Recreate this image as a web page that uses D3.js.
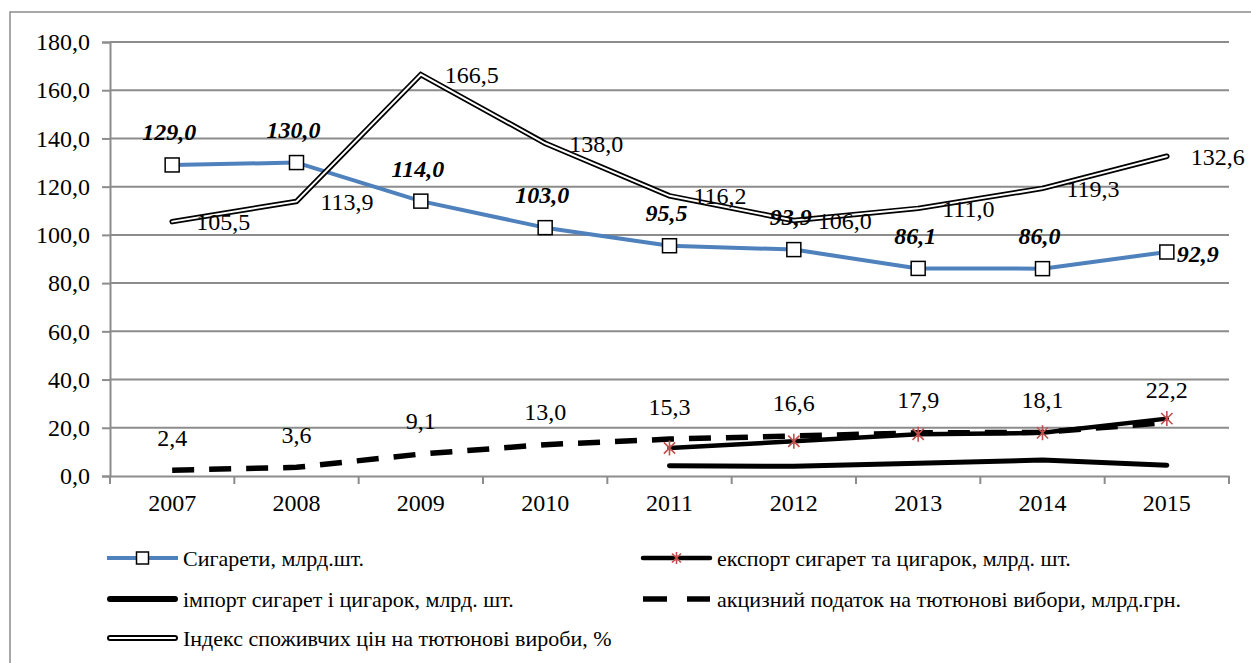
<!DOCTYPE html>
<html>
<head>
<meta charset="utf-8">
<script src="https://cdn.jsdelivr.net/npm/d3@7"></script>
<style>
  body { margin: 0; background: #fff; }
  svg text { font-family: "Liberation Serif", "Times New Roman", Times, "DejaVu Serif", serif !important; fill: #000; }
</style>
</head>
<body>
<div id="chart"></div>
<script>
// chart data
const years = ["2007", "2008", "2009", "2010", "2011", "2012", "2013", "2014", "2015"];
const cigarettes = [129.0, 130.0, 114.0, 103.0, 95.5, 93.9, 86.1, 86.0, 92.9];
const exportVals = [null, null, null, null, 11.6, 14.4, 17.3, 17.9, 23.8];
const importVals = [null, null, null, null, 4.3, 4.0, 5.3, 6.6, 4.5];
const excise = [2.4, 3.6, 9.1, 13.0, 15.3, 16.6, 17.9, 18.1, 22.2];
const priceIndex = [105.5, 113.9, 166.5, 138.0, 116.2, 106.0, 111.0, 119.3, 132.6];
const yTicks = [0, 20, 40, 60, 80, 100, 120, 140, 160, 180];

const legendNames = [
    "Сигарети, млрд.шт.",
    "експорт сигарет та цигарок, млрд. шт.",
    "імпорт сигарет і цигарок, млрд. шт.",
    "акцизний податок на тютюнові вибори, млрд.грн.",
    "Індекс споживчих цін на тютюнові вироби, %"
];

const width = 1251, height = 663;
const plot = { left: 110, right: 1229, top: 42, bottom: 476 };
const grey = "#8c8c8c";
const blue = "#4f81bd";
const red = "#c0504d";
const serif = '"Liberation Serif", "Times New Roman", Times, "DejaVu Serif", serif';

const uk = d3.formatLocale({ decimal: ",", thousands: " ", grouping: [3], currency: ["", ""] });
const fmt = uk.format(".1f");

const svg = d3.select("#chart").append("svg")
    .attr("width", width)
    .attr("height", height)
    .attr("font-family", serif);

// outer frame (runs off the right/bottom of the picture)
svg.append("rect")
    .attr("x", 10).attr("y", 12)
    .attr("width", 1260).attr("height", 700)
    .attr("fill", "none")
    .attr("stroke", grey)
    .attr("stroke-width", 1.5);

const x = d3.scaleBand().domain(years).range([plot.left, plot.right]);
const y = d3.scaleLinear().domain([0, 180]).range([plot.bottom, plot.top]);
const cx = d => x(d) + x.bandwidth() / 2;

// gridlines
svg.append("g")
    .selectAll("line")
    .data(yTicks.filter(t => t > 0))
    .enter().append("line")
    .attr("x1", plot.left).attr("x2", plot.right)
    .attr("y1", d => y(d)).attr("y2", d => y(d))
    .attr("stroke", grey).attr("stroke-width", 2);

// y axis
const yAxis = svg.append("g")
    .attr("transform", `translate(${plot.left},0)`)
    .call(d3.axisLeft(y).tickValues(yTicks).tickFormat(fmt).tickSizeOuter(0).tickSize(8).tickPadding(12));
yAxis.attr("font-family", serif);
yAxis.select(".domain").attr("stroke", grey).attr("stroke-width", 2);
yAxis.selectAll(".tick line").attr("stroke", grey).attr("stroke-width", 2);
yAxis.selectAll(".tick text").attr("font-size", 24).attr("fill", "#000");

// x axis (ticks between categories)
const xAxis = svg.append("g")
    .attr("transform", `translate(0,${plot.bottom})`)
    .call(d3.axisBottom(x).tickSize(0).tickPadding(16));
xAxis.attr("font-family", serif);
xAxis.select(".domain").attr("stroke", grey).attr("stroke-width", 2);
xAxis.selectAll(".tick text").attr("font-size", 24).attr("fill", "#000")
    .attr("dy", "0.8em");
svg.append("g")
    .selectAll("line")
    .data(years.concat(["end"]))
    .enter().append("line")
    .attr("x1", (d, i) => plot.left + i * x.bandwidth())
    .attr("x2", (d, i) => plot.left + i * x.bandwidth())
    .attr("y1", plot.bottom).attr("y2", plot.bottom + 8)
    .attr("stroke", grey).attr("stroke-width", 2);

function pts(vals) {
    return years.map((yr, i) => ({ yr, v: vals[i] })).filter(p => p.v !== null);
}
const line = d3.line().x(p => cx(p.yr)).y(p => y(p.v));

function asterisk(s) {
    const h = s / 2, d = h * 0.75;
    return `M0,${-h}L0,${h}M${-d},${-d}L${d},${d}M${-d},${d}L${d},${-d}`;
}

// import
svg.append("path")
    .attr("d", line(pts(importVals)))
    .attr("fill", "none").attr("stroke", "#000").attr("stroke-width", 5)
    .attr("stroke-linecap", "round").attr("stroke-linejoin", "round");

// export
svg.append("path")
    .attr("d", line(pts(exportVals)))
    .attr("fill", "none").attr("stroke", "#000").attr("stroke-width", 4.5)
    .attr("stroke-linecap", "round").attr("stroke-linejoin", "round");

// excise (dashed)
svg.append("path")
    .attr("d", line(pts(excise)))
    .attr("fill", "none").attr("stroke", "#000").attr("stroke-width", 5.5)
    .attr("stroke-dasharray", "22,15");

svg.append("g")
    .selectAll("path")
    .data(pts(exportVals))
    .enter().append("path")
    .attr("transform", p => `translate(${cx(p.yr)},${y(p.v)})`)
    .attr("d", asterisk(15))
    .attr("stroke", red).attr("stroke-width", 1.6).attr("fill", "none");

// cigarettes
svg.append("path")
    .attr("d", line(pts(cigarettes)))
    .attr("fill", "none").attr("stroke", blue).attr("stroke-width", 4)
    .attr("stroke-linejoin", "round");
svg.append("g")
    .selectAll("rect")
    .data(pts(cigarettes))
    .enter().append("rect")
    .attr("x", p => cx(p.yr) - 7).attr("y", p => y(p.v) - 7)
    .attr("width", 14).attr("height", 14)
    .attr("fill", "#fff").attr("stroke", "#000").attr("stroke-width", 1.5);

// price index (double line)
svg.append("path")
    .attr("d", line(pts(priceIndex)))
    .attr("fill", "none").attr("stroke", "#000").attr("stroke-width", 5.5)
    .attr("stroke-linecap", "round");
svg.append("path")
    .attr("d", line(pts(priceIndex)))
    .attr("fill", "none").attr("stroke", "#fff").attr("stroke-width", 2)
    .attr("stroke-linecap", "round");

// data labels
svg.append("g")
    .selectAll("text")
    .data(pts(excise))
    .enter().append("text")
    .attr("x", p => cx(p.yr)).attr("y", p => y(p.v) - 33)
    .attr("dy", "0.35em").attr("text-anchor", "middle")
    .attr("font-size", 24)
    .text(p => fmt(p.v));

svg.append("g")
    .selectAll("text")
    .data(pts(priceIndex))
    .enter().append("text")
    .attr("x", p => cx(p.yr) + 24).attr("y", p => y(p.v))
    .attr("dy", "0.35em")
    .attr("font-size", 24)
    .text(p => fmt(p.v));

svg.append("g")
    .selectAll("text")
    .data(pts(cigarettes))
    .enter().append("text")
    .attr("x", (p, i) => i === years.length - 1 ? cx(p.yr) + 10 : cx(p.yr) - 3)
    .attr("y", (p, i) => i === years.length - 1 ? y(p.v) + 2 : y(p.v) - 33)
    .attr("dy", "0.35em")
    .attr("text-anchor", (p, i) => i === years.length - 1 ? "start" : "middle")
    .attr("font-size", 24).attr("font-weight", "bold").attr("font-style", "italic")
    .text(p => fmt(p.v));

// legend
const legendPos = [
    { x: 107, y: 558 }, { x: 641, y: 558 },
    { x: 107, y: 599 }, { x: 641, y: 599 },
    { x: 107, y: 638 }
];
const symW = 71;
const lg = svg.append("g").selectAll("g")
    .data(legendNames)
    .enter().append("g")
    .attr("transform", (d, i) => `translate(${legendPos[i].x},${legendPos[i].y})`);

lg.append("text")
    .attr("x", symW + 5).attr("dy", "0.35em")
    .attr("font-size", 22)
    .text(d => d);

lg.each(function (d, i) {
    const g = d3.select(this);
    if (i === 0) {
        g.append("line").attr("x1", 0).attr("x2", symW).attr("stroke", blue).attr("stroke-width", 4);
        g.append("rect").attr("x", symW / 2 - 6).attr("y", -6).attr("width", 12).attr("height", 12)
            .attr("fill", "#fff").attr("stroke", "#000").attr("stroke-width", 1.5);
    } else if (i === 1) {
        g.append("line").attr("x1", 2).attr("x2", symW - 2).attr("stroke", "#000").attr("stroke-width", 4.5)
            .attr("stroke-linecap", "round");
        g.append("path").attr("transform", `translate(${symW / 2},0)`).attr("d", asterisk(12))
            .attr("stroke", red).attr("stroke-width", 1.6);
    } else if (i === 2) {
        g.append("line").attr("x1", 3).attr("x2", symW - 3).attr("stroke", "#000").attr("stroke-width", 6)
            .attr("stroke-linecap", "round");
    } else if (i === 3) {
        g.append("line").attr("x1", 2).attr("x2", symW - 2).attr("stroke", "#000").attr("stroke-width", 5.5)
            .attr("stroke-dasharray", "24,20");
    } else {
        g.append("line").attr("x1", 3).attr("x2", symW - 3).attr("stroke", "#000").attr("stroke-width", 6)
            .attr("stroke-linecap", "round");
        g.append("line").attr("x1", 3).attr("x2", symW - 3).attr("stroke", "#fff").attr("stroke-width", 2.2)
            .attr("stroke-linecap", "round");
    }
});
</script>
</body>
</html>
